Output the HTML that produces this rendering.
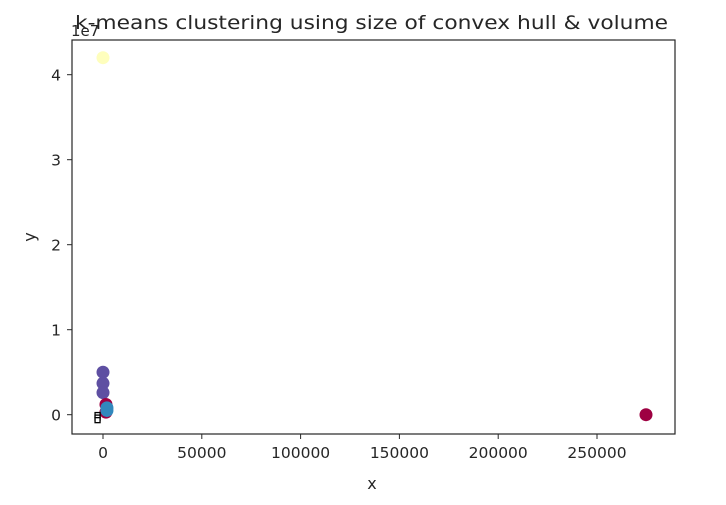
<!DOCTYPE html>
<html><head><meta charset="utf-8"><style>
body{margin:0;background:#fff;}
svg text{font-family:"DejaVu Sans","Liberation Sans",sans-serif;fill:#262626;}
</style></head><body>
<svg width="726" height="500">
<text x="71" y="36" font-size="15">1e7</text>
<text x="75" y="29" font-size="19" textLength="593" lengthAdjust="spacingAndGlyphs">k-means clustering using size of convex hull &amp; volume</text>
<g id="marks"></g>
<rect x="72" y="40" width="603" height="394" fill="none" stroke="#262626" stroke-width="1.2"/>
<g id="axes"></g>
<text x="372" y="489" font-size="16" text-anchor="middle">x</text>
<text x="0" y="0" font-size="16" text-anchor="middle" transform="translate(35,237) rotate(-90)">y</text>
</svg>
<script>
const xTicks=[0,50000,100000,150000,200000,250000];
const yTicks=[0,1,2,3,4];
const ptX=[0,0,0,0,1500,1500,2000,2000,274800];
const ptY=[42000000,5000000,3700000,2600000,1200000,300000,800000,500000,0];
const ptCluster=[0,1,1,1,2,2,3,3,2];
const colors=["#fefebd","#5e4fa2","#9e0142","#3288bd"];
const boxX=[-2500,-2500,-2500];
const boxY=[-100000,-400000,-700000];
const X=v=>103+v*0.001976;
const Y=v=>414.7-v/1e7*85;
const NS="http://www.w3.org/2000/svg";
const marks=document.getElementById('marks'),axes=document.getElementById('axes');
ptX.forEach((v,i)=>{const c=document.createElementNS(NS,'circle');
c.setAttribute('cx',X(v));c.setAttribute('cy',Y(ptY[i]));c.setAttribute('r',6.5);c.setAttribute('fill',colors[ptCluster[i]]);


marks.appendChild(c);});
boxX.forEach((v,i)=>{const r=document.createElementNS(NS,'rect');
r.setAttribute('x',X(v)-3);r.setAttribute('y',Y(boxY[i])-3);r.setAttribute('width',5);r.setAttribute('height',5);r.setAttribute('fill','#fff');r.setAttribute('stroke','#000');r.setAttribute('stroke-width','1.3');


marks.appendChild(r);});
xTicks.forEach(v=>{const l=document.createElementNS(NS,'line');
l.setAttribute('x1',X(v));l.setAttribute('x2',X(v));l.setAttribute('y1',434);l.setAttribute('y2',439);l.setAttribute('stroke','#262626');


axes.appendChild(l);
const t=document.createElementNS(NS,'text');t.setAttribute('x',X(v));t.setAttribute('y',458);t.setAttribute('font-size','15.5');t.setAttribute('text-anchor','middle');t.textContent=v;


axes.appendChild(t);});
yTicks.forEach(v=>{const l=document.createElementNS(NS,'line');
l.setAttribute('x1',67);l.setAttribute('x2',72);l.setAttribute('y1',Y(v*1e7));l.setAttribute('y2',Y(v*1e7));l.setAttribute('stroke','#262626');


axes.appendChild(l);
const t=document.createElementNS(NS,'text');t.setAttribute('x',61);t.setAttribute('y',Y(v*1e7)+6);t.setAttribute('font-size','15.5');t.setAttribute('text-anchor','end');t.textContent=v;


axes.appendChild(t);});
</script>
</body></html>
